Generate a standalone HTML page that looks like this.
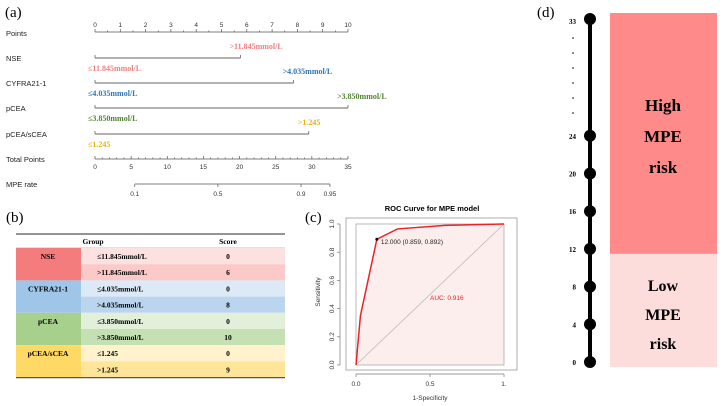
<!DOCTYPE html>
<html><head><meta charset="utf-8"><style>
body{margin:0;background:#fff}
svg{display:block}
.s{font-family:"Liberation Sans",sans-serif}
.r{font-family:"Liberation Serif",serif}
</style></head><body>
<svg id="svg" width="724" height="406" viewBox="0 0 724 406" xmlns="http://www.w3.org/2000/svg">
<g id="a"></g>
<g id="b"></g>
<g id="c"></g>
<g id="d"></g>
</svg>
<script>
// Nomogram data
const nomoVars = ["NSE","CYFRA21-1","pCEA","pCEA/sCEA"];
const nomoPoints = [5.75, 7.85, 10, 8.45];
const nomoHigh = [">11.845mmol/L",">4.035mmol/L",">3.850mmol/L",">1.245"];
const nomoLow = ["≤11.845mmol/L","≤4.035mmol/L","≤3.850mmol/L","≤1.245"];
const nomoColors = ["#f08080","#2e75b6","#548235","#f0b400"];
const pointTicks = [0,1,2,3,4,5,6,7,8,9,10];
const totalTicks = [0,5,10,15,20,25,30,35];
const mpeTicks = [0.1,0.5,0.9,0.95];
const mpeTickPos = [5.5,17,28.5,32.5]; // total-points where MPE rate ticks fall
// Table data
const groups = ["NSE","CYFRA21-1","pCEA","pCEA/sCEA"];
const tableLevels = ["≤11.845mmol/L",">11.845mmol/L","≤4.035mmol/L",">4.035mmol/L","≤3.850mmol/L",">3.850mmol/L","≤1.245",">1.245"];
const tableScores = [0,6,0,8,0,10,0,9];
// ROC data
const rocFpr = [0,0.03,0.141,0.28,0.6,1];
const rocTpr = [0,0.35,0.892,0.965,0.99,1];
const rocYTicks = [0,0.2,0.4,0.6,0.8,1.0];
const rocXTicks = ["0.0","0.5","1."];
// Risk scale
const riskValues = [0,4,8,12,16,20,24];
const riskTop = 33;
const riskCut = 12;

const NS="http://www.w3.org/2000/svg";
function el(p,t,a,txt){const e=document.createElementNS(NS,t);for(const k in a)e.setAttribute(k,a[k]);if(txt!==undefined)e.textContent=txt;p.appendChild(e);return e;}

// ---------- (a)
const A=document.getElementById('a');
const px=v=>95+v*25.3, tx=v=>95+v*(253/35);
let t=el(A,'text',{x:5,y:17,'font-size':15,class:'r'},'(a)');


const rowY=[58,83,108,134];
const labels=["Points",...nomoVars,"Total Points","MPE rate"];
const labY=[33,...rowY,159,184];
labels.forEach((l,i)=>{const e=el(A,'text',{x:6,y:labY[i]+3,'font-size':7.5,class:'s',fill:'#222'},l);

});
el(A,'line',{x1:px(0),x2:px(10),y1:32,y2:32,stroke:'#555','stroke-width':0.8});
for(let v=0;v<=10;v+=0.5){el(A,'line',{x1:px(v),x2:px(v),y1:32,y2:v%1?30.5:29,stroke:'#555','stroke-width':0.7});}
pointTicks.forEach(v=>{el(A,'text',{x:px(v),y:27,'font-size':6.5,'text-anchor':'middle',class:'s',fill:'#333'},v);});
nomoPoints.forEach((p,i)=>{
 const y=rowY[i];
 const ln=el(A,'line',{x1:px(0),x2:px(p),y1:y,y2:y,stroke:'#666','stroke-width':0.9});
 
 
 el(A,'line',{x1:px(0),x2:px(0),y1:y,y2:y-3,stroke:'#666','stroke-width':0.8});
 el(A,'line',{x1:px(p),x2:px(p),y1:y,y2:y-3,stroke:'#666','stroke-width':0.8});
 el(A,'text',{x:px(p)-11,y:y-9,'font-size':8,'font-weight':'bold',class:'r',fill:nomoColors[i]},nomoHigh[i]);
 el(A,'text',{x:px(0)-7,y:y+13,'font-size':8,'font-weight':'bold',class:'r',fill:nomoColors[i]},nomoLow[i]);
});
el(A,'line',{x1:tx(0),x2:tx(35),y1:159,y2:159,stroke:'#555','stroke-width':0.8});
for(let v=0;v<=35;v++){el(A,'line',{x1:tx(v),x2:tx(v),y1:159,y2:v%5?157.5:156,stroke:'#555','stroke-width':0.7});}
totalTicks.forEach(v=>el(A,'text',{x:tx(v),y:169,'font-size':6.5,'text-anchor':'middle',class:'s',fill:'#333'},v));
el(A,'line',{x1:tx(mpeTickPos[0]),x2:tx(mpeTickPos[3]),y1:184,y2:184,stroke:'#555','stroke-width':0.8});
mpeTicks.forEach((v,i)=>{el(A,'line',{x1:tx(mpeTickPos[i]),x2:tx(mpeTickPos[i]),y1:184,y2:187,stroke:'#555','stroke-width':0.7});
el(A,'text',{x:tx(mpeTickPos[i]),y:196,'font-size':6.5,'text-anchor':'middle',class:'s',fill:'#333'},v);});

// ---------- (b)
const B=document.getElementById('b');
el(B,'text',{x:6,y:222,'font-size':15,class:'r'},'(b)');
const gc=[["#f47c7c","#fde0e0","#fcc9c9"],["#9fc5e8","#dce9f6","#bcd5ee"],["#a8d08d","#e2efd9","#c5e0b3"],["#ffd966","#fff2cc","#ffe599"]];
const top0=248,rh=16.2;
el(B,'line',{x1:16,x2:285,y1:234,y2:234,stroke:'#555','stroke-width':1.2});
el(B,'text',{x:93,y:244,'font-size':7.5,'font-weight':'bold','text-anchor':'middle',class:'r'},'Group');
el(B,'text',{x:228,y:244,'font-size':7.5,'font-weight':'bold','text-anchor':'middle',class:'r'},'Score');
el(B,'line',{x1:16,x2:285,y1:248,y2:248,stroke:'#888','stroke-width':0.6});
groups.forEach((g,i)=>{
 const y=top0+i*2*rh;
 const c=el(B,'rect',{x:16,y:y,width:65,height:2*rh,fill:gc[i][0]});
 
 
 el(B,'text',{x:48,y:y+11,'font-size':7.5,'font-weight':'bold','text-anchor':'middle',class:'r'},g);
 for(let j=0;j<2;j++){
  const k=i*2+j,yy=y+j*rh;
  const r=el(B,'rect',{x:81,y:yy,width:204,height:rh,fill:gc[i][1+j]});
  
  
  el(B,'text',{x:97,y:yy+11,'font-size':7.5,'font-weight':'bold',class:'r'},tableLevels[k]);
  el(B,'text',{x:228,y:yy+11,'font-size':7.5,'font-weight':'bold','text-anchor':'middle',class:'r'},tableScores[k]);
 }
});
el(B,'line',{x1:16,x2:285,y1:top0+8*rh,y2:top0+8*rh,stroke:'#555','stroke-width':1.2});

// ---------- (c)
const C=document.getElementById('c');
const cx=v=>356+v*148, cy=v=>365-v*141;
el(C,'text',{x:305,y:222,'font-size':15,class:'r'},'(c)');
el(C,'text',{x:432,y:211,'font-size':7.5,'font-weight':'bold','text-anchor':'middle',class:'s'},'ROC Curve for MPE model');
el(C,'rect',{x:346,y:218,width:171,height:152,fill:'none',stroke:'#999','stroke-width':0.8});
let area='M'+cx(0)+','+cy(0);rocFpr.forEach((f,i)=>area+=' L'+cx(f)+','+cy(rocTpr[i]));area+=' L'+cx(1)+','+cy(0)+' Z';
el(C,'path',{d:area,fill:'#fdeeee'});
el(C,'rect',{x:cx(0),y:cy(1),width:148,height:141,fill:'none',stroke:'#aaa','stroke-width':0.8});
el(C,'line',{x1:cx(0),y1:cy(0),x2:cx(1),y2:cy(1),stroke:'#bbb','stroke-width':0.8});
const poly=el(C,'polyline',{points:rocFpr.map((f,i)=>cx(f)+','+cy(rocTpr[i])).join(' '),fill:'none',stroke:'#e8232a','stroke-width':1.5});


el(C,'circle',{cx:cx(rocFpr[2]),cy:cy(rocTpr[2]),r:1.5,fill:'#000'});
el(C,'text',{x:cx(rocFpr[2])+4,y:cy(rocTpr[2])+5,'font-size':6.5,class:'s',fill:'#222'},'12.000 (0.859, 0.892)');
el(C,'text',{x:430,y:300,'font-size':6.5,class:'s',fill:'#e8232a'},'AUC: 0.916');
el(C,'line',{x1:340,x2:340,y1:cy(0),y2:cy(1),stroke:'#777','stroke-width':0.7});
rocYTicks.forEach(v=>{el(C,'line',{x1:337,x2:340,y1:cy(v),y2:cy(v),stroke:'#777','stroke-width':0.7});
el(C,'text',{x:334,y:cy(v),'font-size':6.5,'text-anchor':'middle',class:'s',transform:`rotate(-90 334 ${cy(v)})`,fill:'#333'},v.toFixed(1));});
el(C,'line',{x1:cx(0),x2:cx(1),y1:374,y2:374,stroke:'#777','stroke-width':0.7});
rocXTicks.forEach((l,i)=>{const x=cx(i*0.5);el(C,'line',{x1:x,x2:x,y1:374,y2:377,stroke:'#777','stroke-width':0.7});
el(C,'text',{x:x,y:386,'font-size':6.5,'text-anchor':'middle',class:'s',fill:'#333'},l);});
el(C,'text',{x:430,y:400,'font-size':6.5,'text-anchor':'middle',class:'s',fill:'#333'},'1-Specificity');
el(C,'text',{x:320,y:292,'font-size':6.5,'text-anchor':'middle',class:'s',transform:'rotate(-90 320 292)',fill:'#333'},'Sensitivity');

// ---------- (d)
const D=document.getElementById('d');
const dy=v=>362-v*(37.7/4);
el(D,'text',{x:537,y:17,'font-size':15,class:'r'},'(d)');
const hi=el(D,'rect',{x:610,y:13,width:107,height:dy(riskCut)-13+5,fill:'#ff8a8a'});


const lo=el(D,'rect',{x:610,y:dy(riskCut)+5,width:107,height:367-dy(riskCut)-5,fill:'#fddcdc'});


["High","MPE","risk"].forEach((w,i)=>el(D,'text',{x:663,y:111+i*31,'font-size':17,'font-weight':'bold','text-anchor':'middle',class:'r'},w));
["Low","MPE","risk"].forEach((w,i)=>el(D,'text',{x:663,y:291+i*29,'font-size':16,'font-weight':'bold','text-anchor':'middle',class:'r'},w));
el(D,'line',{x1:590,x2:590,y1:18,y2:362,stroke:'#000','stroke-width':4});
riskValues.forEach(v=>{const c=el(D,'circle',{cx:590,cy:dy(v),r:6,fill:'#000'});


el(D,'text',{x:576,y:dy(v)+3,'font-size':7,'font-weight':'bold','text-anchor':'end',class:'r'},v);});
el(D,'circle',{cx:590,cy:19,r:6,fill:'#000'});
el(D,'text',{x:576,y:24,'font-size':7,'font-weight':'bold','text-anchor':'end',class:'r'},riskTop);
for(let i=0;i<6;i++)el(D,'circle',{cx:573,cy:38+i*15,r:0.8,fill:'#000'});
</script>
</body></html>
